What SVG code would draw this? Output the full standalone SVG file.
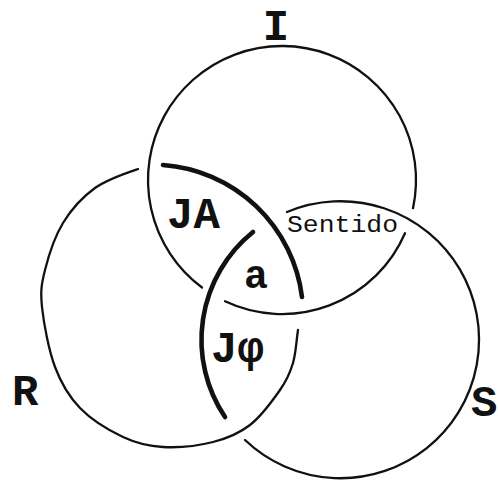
<svg xmlns="http://www.w3.org/2000/svg" width="498" height="484" viewBox="0 0 498 484">
  <style>
    .thin { fill: none; stroke: #111; stroke-width: 2.3; stroke-linecap: round; }
    .thick { fill: none; stroke: #111; stroke-width: 4.6; stroke-linecap: round; }
    .lbl { font-family: "Liberation Mono", "DejaVu Sans Mono", monospace; fill: #111; }
    .big { font-size: 44px; font-weight: bold; }
  </style>
  <rect width="498" height="484" fill="#fff"/>
  <g id="ring-I">
    <path class="thin" d="M225,301.3 A134,134 0 0 0 405,233.2"/>
    <path class="thin" d="M413,208.2 A134,134 0 1 0 202,287.5"/>
    <text class="lbl big" x="276" y="40" text-anchor="middle">I</text>
  </g>
  <g id="ring-R">
    <path class="thick" d="M163,165 A151,151 0 0 1 302,297"/>
    <path class="thin" d="M298,330 C296.3,341 296,353 293,363 C290,373 287.2,379.7 280,390 C272.8,400.3 261.2,416.3 250,425 C238.8,433.7 227.5,438.3 213,442 C198.5,445.7 178,447.8 163,447 C148,446.2 136.8,443.5 123,437 C109.2,430.5 91.3,419.7 80,408 C68.7,396.3 61.3,383.8 55,367 C48.7,350.2 43.7,323.2 42,307 C40.3,290.8 41.5,284 45,270 C48.5,256 54.7,236.7 63,223 C71.3,209.3 82.5,197 95,188 C107.5,179 126.7,172.8 138,169"/>
    <text class="lbl big" x="12" y="405">R</text>
  </g>
  <g id="ring-S">
    <path class="thick" d="M253,232 A138.5,138.5 0 0 0 225,417"/>
    <path class="thin" d="M245,440 A138.5,138.5 0 1 0 287,212"/>
    <text class="lbl big" x="471" y="416">S</text>
  </g>
  <g id="labels">
    <text class="lbl big" x="167" y="228">JA</text>
    <text class="lbl" x="244" y="288" font-size="40" font-weight="bold">a</text>
    <text class="lbl big" x="211" y="362">Jφ</text>
    <text class="lbl" x="287" y="232" font-size="24" textLength="111" lengthAdjust="spacingAndGlyphs">Sentido</text>
  </g>
</svg>
